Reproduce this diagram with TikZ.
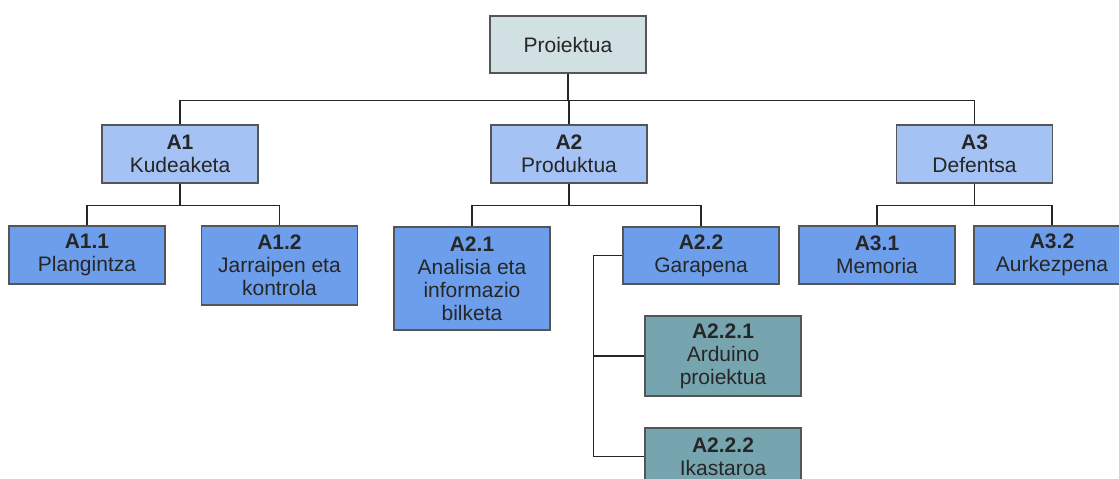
\documentclass[tikz,border=0pt]{standalone}
\usepackage{fontspec}
\setmainfont{Liberation Sans}
\usepackage{xcolor}
\usetikzlibrary{positioning}

\begin{document}
\begin{tikzpicture}[x=1pt,y=-1pt]
    \definecolor{mycyanl}{RGB}{208,224,227}
    \definecolor{myblueh}{RGB}{164,194,244}
    \definecolor{mybluem}{RGB}{109,158,235}
    \definecolor{mycyand}{RGB}{118,165,175}
    \definecolor{myborder}{RGB}{85,85,85}

    \fontsize{21}{23}\selectfont  % letra tamaina
    \tikzstyle{box}=[rectangle,draw=myborder,line width=1.3pt,minimum width=156pt,align=center,inner sep=0pt,text=black!85]
    \tikzstyle{root}=[box,fill=mycyanl,minimum height=57pt]
    \tikzstyle{lvla}=[box,fill=myblueh,minimum height=58pt]
    \tikzstyle{lvlb}=[box,fill=mybluem]
    \tikzstyle{lvlc}=[box,fill=mycyand]
    \tikzstyle{line}=[line width=1.2pt,black!85]

    \useasboundingbox (0,0) rectangle (1119,479);
    \clip (0,0) rectangle (1119,479);

    % nodoak
    \node[root](proj) at (568,44.5){Proiektua};
    \node[lvla](A1) at (180,154){\textbf{A1}\\Kudeaketa};
    \node[lvla](A2) at (569,154){\textbf{A2}\\Produktua};
    \node[lvla](A3) at (974.5,154){\textbf{A3}\\Defentsa};

    \node[lvlb,minimum height=58pt](A11) at (87,255){\textbf{A1.1}\\Plangintza};
    \node[lvlb,minimum height=79pt](A12) at (279.5,265.5){\textbf{A1.2}\\Jarraipen eta\\kontrola};
    \node[lvlb,minimum height=103pt](A21) at (472,278.5){\textbf{A2.1}\\Analisia eta\\informazio\\bilketa};
    \node[lvlb,minimum height=57pt](A22) at (701,255.5){\textbf{A2.2}\\Garapena};
    \node[lvlb,minimum height=58pt](A31) at (877,255){\textbf{A3.1}\\Memoria};
    \node[lvlb,minimum height=58pt](A32) at (1052,255){\textbf{A3.2}\\Aurkezpena};

    \node[lvlc,minimum height=80pt](A221) at (723,356){\textbf{A2.2.1}\\Arduino\\proiektua};
    \node[lvlc,minimum height=57pt](A222) at (723,456.5){\textbf{A2.2.2}\\Ikastaroa};

    % lerroak
    \draw[line](proj.south) -- ++(0,26.5) -| (A1.north);
    \draw[line](proj.south) -- ++(0,26.5) -| (A3.north);
    \draw[line](proj.south) -- ++(0,26.5) -| (A2.north);
    \draw[line](A1.south) -- ++(0,22) -| (A11.north);
    \draw[line](A1.south) -- ++(0,22) -| (A12.north);
    \draw[line](A2.south) -- ++(0,22) -| (A21.north);
    \draw[line](A2.south) -- ++(0,22) -| (A22.north);
    \draw[line](A3.south) -- ++(0,22) -| (A31.north);
    \draw[line](A3.south) -- ++(0,22) -| (A32.north);
    \draw[line](A22.west) -- ++(-29,0) |- (A221.west);
    \draw[line](A22.west) -- ++(-29,0) |- (A222.west);
\end{tikzpicture}
\end{document}
